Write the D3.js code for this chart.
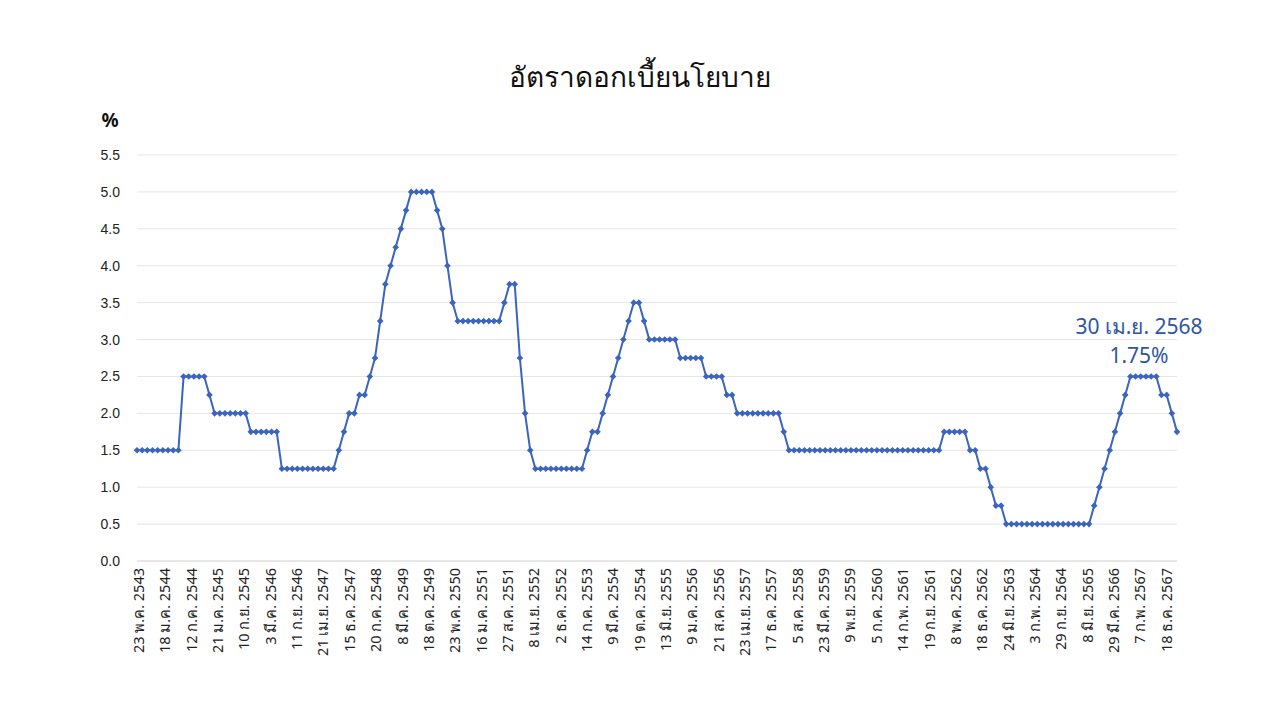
<!DOCTYPE html>
<html>
<head>
<meta charset="utf-8">
<script src="https://cdn.jsdelivr.net/npm/d3@7"></script>
<style>
  body { margin: 0; background: #fff; }
  svg { font-family: "Noto Sans", "DejaVu Sans", sans-serif; }
</style>
</head>
<body>
<svg id="chart" width="1280" height="720"></svg>
<script>
var rates = [
  1.5,1.5,1.5,1.5,1.5,1.5,1.5,1.5,1.5,
  2.5,2.5,2.5,2.5,2.5,
  2.25,
  2.0,2.0,2.0,2.0,2.0,2.0,2.0,
  1.75,1.75,1.75,1.75,1.75,1.75,
  1.25,1.25,1.25,1.25,1.25,1.25,1.25,1.25,1.25,1.25,1.25,
  1.5,1.75,2.0,2.0,2.25,2.25,2.5,2.75,3.25,3.75,4.0,4.25,4.5,4.75,
  5.0,5.0,5.0,5.0,5.0,
  4.75,4.5,4.0,3.5,
  3.25,3.25,3.25,3.25,3.25,3.25,3.25,3.25,3.25,
  3.5,3.75,3.75,2.75,2.0,1.5,
  1.25,1.25,1.25,1.25,1.25,1.25,1.25,1.25,1.25,1.25,
  1.5,1.75,1.75,2.0,2.25,2.5,2.75,3.0,3.25,3.5,3.5,3.25,
  3.0,3.0,3.0,3.0,3.0,3.0,
  2.75,2.75,2.75,2.75,2.75,
  2.5,2.5,2.5,2.5,
  2.25,2.25,
  2.0,2.0,2.0,2.0,2.0,2.0,2.0,2.0,2.0,
  1.75,
  1.5,1.5,1.5,1.5,1.5,1.5,1.5,1.5,1.5,1.5,1.5,1.5,1.5,1.5,1.5,
  1.5,1.5,1.5,1.5,1.5,1.5,1.5,1.5,1.5,1.5,1.5,1.5,1.5,1.5,1.5,
  1.75,1.75,1.75,1.75,1.75,
  1.5,1.5,1.25,1.25,1.0,0.75,0.75,
  0.5,0.5,0.5,0.5,0.5,0.5,0.5,0.5,0.5,0.5,0.5,0.5,0.5,0.5,0.5,0.5,0.5,
  0.75,1.0,1.25,1.5,1.75,2.0,2.25,
  2.5,2.5,2.5,2.5,2.5,2.5,
  2.25,2.25,2.0,1.75
];

var dateLabels = ['23 พ.ค. 2543','18 ม.ค. 2544','12 ก.ค. 2544','21 ม.ค. 2545','10 ก.ย. 2545',
  '3 มี.ค. 2546','11 ก.ย. 2546','21 เม.ย. 2547','15 ธ.ค. 2547','20 ก.ค. 2548',
  '8 มี.ค. 2549','18 ต.ค. 2549','23 พ.ค. 2550','16 ม.ค. 2551','27 ส.ค. 2551',
  '8 เม.ย. 2552','2 ธ.ค. 2552','14 ก.ค. 2553','9 มี.ค. 2554','19 ต.ค. 2554',
  '13 มิ.ย. 2555','9 ม.ค. 2556','21 ส.ค. 2556','23 เม.ย. 2557','17 ธ.ค. 2557',
  '5 ส.ค. 2558','23 มี.ค. 2559','9 พ.ย. 2559','5 ก.ค. 2560','14 ก.พ. 2561',
  '19 ก.ย. 2561','8 พ.ค. 2562','18 ธ.ค. 2562','24 มิ.ย. 2563','3 ก.พ. 2564',
  '29 ก.ย. 2564','8 มิ.ย. 2565','29 มี.ค. 2566','7 ก.พ. 2567','18 ธ.ค. 2567'];

var yTicks = [0,0.5,1,1.5,2,2.5,3,3.5,4,4.5,5,5.5];

var svg = d3.select('#chart');
var plotLeft = 137, plotRight = 1177, plotTop = 155, plotBottom = 561;
var lineColor = '#3A64BE';

var x = d3.scaleLinear().domain([0, rates.length - 1]).range([plotLeft, plotRight]);
var y = d3.scaleLinear().domain([0, 5.5]).range([plotBottom, plotTop]);
// labels sit roughly every 5 points, last one on point 199
var xl = d3.scaleLinear().domain([0, dateLabels.length - 1]).range([x(0) + 2, x(199)]);

svg.append('text').attr('x', 640).attr('y', 87).attr('text-anchor', 'middle')
  .attr('font-size', 28).attr('fill', '#111').text('อัตราดอกเบี้ยนโยบาย');

svg.append('text').attr('x', 110).attr('y', 127).attr('text-anchor', 'middle')
  .attr('font-size', 19).attr('font-weight', 'bold').attr('fill', '#111').text('%');

var grid = svg.append('g');
grid.selectAll('line').data(yTicks).enter().append('line')
  .attr('x1', plotLeft).attr('x2', plotRight)
  .attr('y1', function(d){ return y(d); }).attr('y2', function(d){ return y(d); })
  .attr('stroke', function(d){ return d === 0 ? '#d0d0d0' : '#e6e6e6'; })
  .attr('stroke-width', 1);

var yAxis = d3.axisLeft(y).tickValues(yTicks).tickSize(0).tickPadding(0)
  .tickFormat(d3.format('.1f'));
var gy = svg.append('g').attr('transform', 'translate(120,0)').call(yAxis);
gy.select('.domain').remove();
gy.selectAll('text').attr('font-size', 14).attr('fill', '#222');

svg.append('g').selectAll('text').data(dateLabels).enter().append('text')
  .attr('transform', function(d, i){ return 'translate(' + (xl(i) + 5) + ',568) rotate(-90)'; })
  .attr('text-anchor', 'end').attr('font-size', 14.5).attr('fill', '#222')
  .text(function(d){ return d; });

var line = d3.line().x(function(d, i){ return x(i); }).y(function(d){ return y(d); });
svg.append('path').datum(rates).attr('d', line)
  .attr('fill', 'none').attr('stroke', lineColor).attr('stroke-width', 2);

var diamond = d3.symbol().type(d3.symbolDiamond2).size(28);
svg.append('g').selectAll('path').data(rates).enter().append('path')
  .attr('transform', function(d, i){ return 'translate(' + x(i) + ',' + y(d) + ')'; })
  .attr('d', diamond).attr('fill', lineColor);

var note = svg.append('g').attr('fill', '#2F55A4').attr('font-size', 21).attr('text-anchor', 'middle');
note.append('text').attr('x', 1139).attr('y', 334).text('30 เม.ย. 2568');
note.append('text').attr('x', 1139).attr('y', 363).text(d3.format('.2f')(rates[rates.length - 1]) + '%');
</script>
</body>
</html>
